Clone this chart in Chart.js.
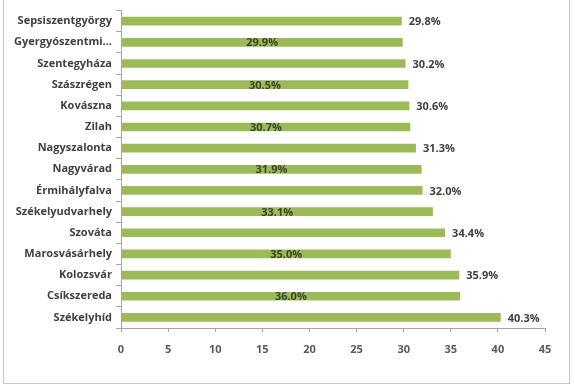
<!DOCTYPE html>
<html>
<head>
<meta charset="utf-8">
<script src="https://cdn.jsdelivr.net/npm/chart.js@4/dist/chart.umd.min.js"></script>
<style>
  html, body { margin: 0; padding: 0; background: #fff; }
  #wrap { position: relative; width: 575px; height: 387px; }
</style>
</head>
<body>
<div id="wrap"><canvas id="grafico" width="575" height="387"></canvas></div>
<script>
// ===== DADOS =====
const telepulesek = [
    'Sepsiszentgyörgy', 'Gyergyószentmiklós', 'Szentegyháza', 'Szászrégen', 'Kovászna',
    'Zilah', 'Nagyszalonta', 'Nagyvárad', 'Érmihályfalva', 'Székelyudvarhely',
    'Szováta', 'Marosvásárhely', 'Kolozsvár', 'Csíkszereda', 'Székelyhíd'
];
const ertekek = [29.8, 29.9, 30.2, 30.5, 30.6, 30.7, 31.3, 31.9, 32.0, 33.1, 34.4, 35.0, 35.9, 36.0, 40.3];
const xTicks = [0, 5, 10, 15, 20, 25, 30, 35, 40, 45];

const fonte = '"Open Sans", "Liberation Sans", sans-serif';

// frame around the chart (top edge is cut off in the picture)
const moldura = {
    id: 'moldura',
    beforeDraw(chart) {
        const ctx = chart.ctx;
        ctx.save();
        ctx.strokeStyle = '#c8c8c8';
        ctx.lineWidth = 1;
        ctx.strokeRect(3.5, -10, 566, 393.5);
        ctx.restore();
    }
};

// percent labels: alternate outside end / centered in bar
const rotulos = {
    id: 'rotulos',
    afterDatasetsDraw(chart) {
        const ctx = chart.ctx;
        const meta = chart.getDatasetMeta(0);
        ctx.save();
        ctx.font = 'bold 11px ' + fonte;
        ctx.textBaseline = 'middle';
        meta.data.forEach((bar, i) => {
            const txt = ertekek[i].toFixed(1) + '%';
            if (i % 2 === 0) {
                ctx.fillStyle = '#404040';
                ctx.textAlign = 'left';
                ctx.fillText(txt, bar.x + 7, bar.y + 1);
            } else {
                ctx.fillStyle = '#3b4526';
                ctx.textAlign = 'center';
                ctx.fillText(txt, (bar.base + bar.x) / 2, bar.y + 1);
            }
        });
        ctx.restore();
    }
};

new Chart(document.getElementById('grafico'), {
    type: 'bar',
    data: {
        labels: telepulesek,
        datasets: [{
            data: ertekek,
            backgroundColor: '#9bbb59',
            borderWidth: 0,
            barPercentage: 0.41,
            categoryPercentage: 1
        }]
    },
    options: {
        indexAxis: 'y',
        responsive: false,
        animation: false,
        layout: { padding: { top: 1, right: 30, left: 0, bottom: 0 } },
        plugins: {
            legend: { display: false },
            tooltip: { enabled: false }
        },
        scales: {
            x: {
                min: 0,
                max: 45,
                afterBuildTicks(scale) {
                    scale.ticks = xTicks.map(v => ({ value: v }));
                },
                afterFit(scale) { scale.height = 59; },
                grid: { drawOnChartArea: false, tickLength: 4, color: '#a6a6a6' },
                border: { color: '#a6a6a6' },
                ticks: {
                    padding: 11,
                    color: '#595959',
                    font: { family: fonte, size: 11, weight: 'bold' }
                }
            },
            y: {
                afterFit(scale) { scale.width = 121; },
                grid: { drawOnChartArea: false, tickLength: 5, color: '#a6a6a6', offset: true },
                border: { color: '#a6a6a6' },
                ticks: {
                    padding: 4,
                    color: '#404040',
                    font: { family: fonte, size: 11, weight: 'bold' },
                    callback(v) {
                        const nome = telepulesek[v];
                        return nome.length > 16 ? nome.slice(0, 14) + '...' : nome;
                    }
                }
            }
        }
    },
    plugins: [moldura, rotulos]
});
</script>
</body>
</html>
